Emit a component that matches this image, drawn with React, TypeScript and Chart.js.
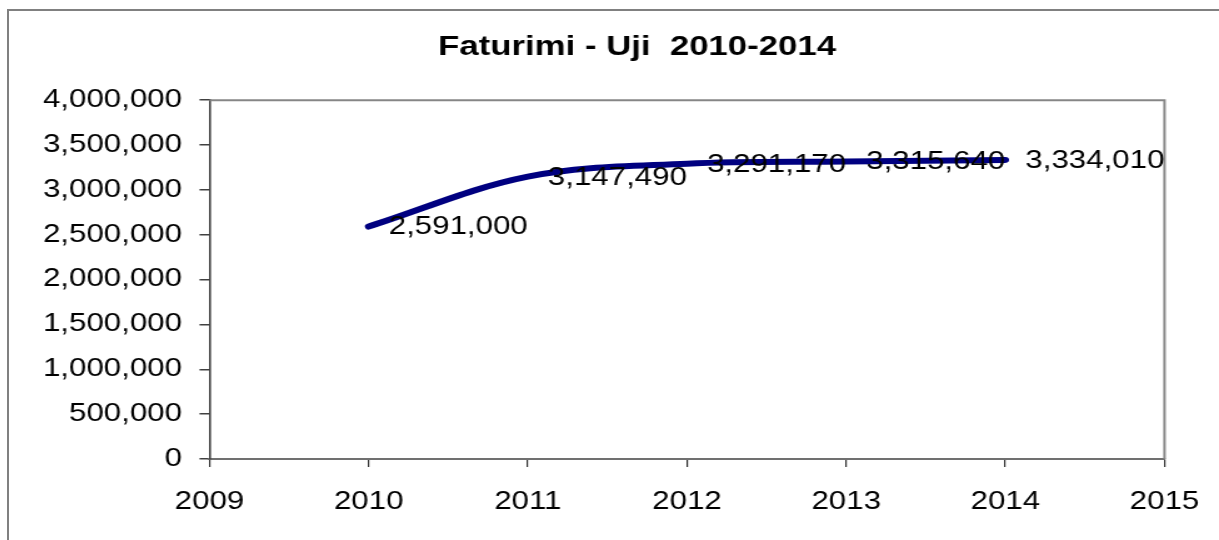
import React, { useEffect, useRef } from "react";
import { Chart, registerables } from "chart.js";

Chart.register(...registerables);

const titleText = "Faturimi - Uji  2010-2014";
const years = [2010, 2011, 2012, 2013, 2014];
const revenue = [2591000, 3147490, 3291170, 3315640, 3334010];
const xMin = 2009;
const xMax = 2015;
const yMin = 0;
const yMax = 4000000;
const yStep = 500000;

const FONT = "'Liberation Sans', Arial, sans-serif";
const fmt = (v: number) => Number(v).toLocaleString("en-US");

const plotFrame = {
  id: "plotFrame",
  beforeDatasetsDraw(chart: any) {
    const { ctx, chartArea } = chart;
    ctx.save();
    ctx.strokeStyle = "#868686";
    ctx.lineWidth = 2;
    ctx.beginPath();
    ctx.moveTo(chartArea.left, chartArea.top);
    ctx.lineTo(chartArea.right, chartArea.top);
    ctx.lineTo(chartArea.right, chartArea.bottom);
    ctx.stroke();
    ctx.restore();
  },
};

const dataLabels = {
  id: "dataLabels",
  afterDatasetsDraw(chart: any) {
    const { ctx } = chart;
    const meta = chart.getDatasetMeta(0);
    ctx.save();
    ctx.font = `25px ${FONT}`;
    ctx.fillStyle = "#000";
    ctx.textAlign = "left";
    ctx.textBaseline = "middle";
    meta.data.forEach((pt: any, i: number) => {
      ctx.fillText(fmt(revenue[i]), pt.x + 16, pt.y + 1);
    });
    ctx.restore();
  },
};

export default function App() {
  const ref = useRef<HTMLCanvasElement | null>(null);

  useEffect(() => {
    document.documentElement.style.overflow = "hidden";
    document.body.style.overflow = "hidden";
    if (!ref.current) return;
    const chart = new Chart(ref.current, {
      type: "line",
      data: {
        datasets: [
          {
            data: years.map((x, i) => ({ x, y: revenue[i] })),
            borderColor: "#000080",
            backgroundColor: "#000080",
            borderWidth: 6,
            pointRadius: 0,
            tension: 0.35,
            borderCapStyle: "round",
            borderJoinStyle: "round",
            fill: false,
          },
        ],
      },
      options: {
        responsive: true,
        maintainAspectRatio: false,
        animation: false,
        layout: { padding: { left: 0, right: 0, top: 0, bottom: 32 } },
        plugins: {
          legend: { display: false },
          tooltip: { enabled: false },
          title: {
            display: true,
            text: titleText,
            color: "#000",
            font: { family: FONT, size: 27.8, weight: "bold" },
            padding: { top: 20.0, bottom: 35.8 },
          },
        },
        scales: {
          x: {
            type: "linear",
            min: xMin,
            max: xMax,
            ticks: {
              stepSize: 1,
              autoSkip: false,
              maxRotation: 0,
              color: "#000",
              font: { family: FONT, size: 25 },
              padding: 20,
              callback: (v: any) => String(v),
            },
            grid: {
              drawOnChartArea: false,
              drawTicks: true,
              tickLength: 8,
              color: "#303030",
              lineWidth: 1.2,
            },
            border: { display: true, color: "#707070", width: 2 },
            afterFit: (s: any) => {
              s.height = 60;
            },
          },
          y: {
            position: "left",
            min: yMin,
            max: yMax,
            ticks: {
              stepSize: yStep,
              autoSkip: false,
              color: "#000",
              font: { family: FONT, size: 25 },
              padding: 14,
              callback: (v: any) => fmt(v),
            },
            grid: {
              drawOnChartArea: false,
              drawTicks: true,
              tickLength: 8,
              color: "#404040",
              lineWidth: 1.5,
            },
            border: { display: true, color: "#404040", width: 1.6 },
            afterFit: (s: any) => {
              s.width = 160.4;
            },
          },
          yRightSpace: {
            position: "right",
            display: true,
            min: yMin,
            max: yMax,
            ticks: { display: false },
            grid: { display: false, drawTicks: false },
            border: { display: false },
            afterFit: (s: any) => {
              s.width = 80.6;
            },
          },
        },
      } as any,
      plugins: [plotFrame, dataLabels],
    });
    return () => chart.destroy();
  }, []);

  return (
    <div
      style={{
        position: "fixed",
        left: 0,
        top: 0,
        width: 1300,
        height: 600,
        overflow: "hidden",
        background: "#fff",
      }}
    >
      <div
        style={{
          position: "absolute",
          left: 7,
          top: 9,
          width: 1256,
          height: 600,
          borderTop: "2px solid #808080",
          borderLeft: "2px solid #808080",
        }}
      >
        <div
          style={{
            position: "relative",
            width: 1005,
            height: 540,
            transform: "scaleX(1.25)",
            transformOrigin: "0 0",
          }}
        >
          <canvas ref={ref} />
        </div>
      </div>
    </div>
  );
}
